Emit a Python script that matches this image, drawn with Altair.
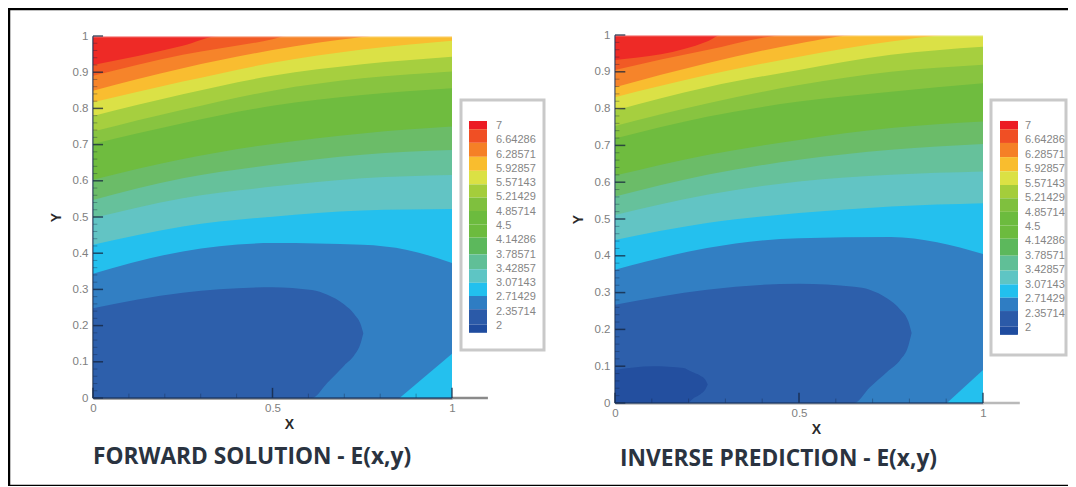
import altair as alt
import pandas as pd

BAND_COLORS = ["#ee2a26", "#f15a25", "#f6842a", "#f9bd30", "#dbe146", "#a6cf3f", "#88c440", "#6fbc3f",
               "#6bbc68", "#66c19b", "#62c4c4", "#24c0ee", "#327fc3", "#2d5fab", "#234f9f"]

GRID = [0, 0.25, 0.5, 0.75, 1]

# ---- forward solution: contour boundaries
L_BOUNDS = [
    ([0, .25, .355, 1], [.920, .973, 1, 1]),
    ([0, .25, .5, .54, 1], [.890, .948, .991, 1, 1]),
    ([0, .25, .5, .75, .78, 1], [.849, .911, .961, .997, 1, 1]),
    (GRID, [.817, .874, .926, .963, .987]),
    (GRID, [.779, .839, .890, .922, .943]),
    (GRID, [.736, .796, .849, .883, .902]),
    (GRID, [.702, .759, .807, .837, .856]),
    (GRID, [.603, .660, .702, .731, .750]),
    (GRID, [.547, .607, .644, .672, .685]),
    (GRID, [.497, .552, .584, .607, .616]),
    (GRID, [.423, .474, .501, .518, .522]),
    ([0, .25, .5, .75, .875, 1], [.343, .405, .428, .423, .409, .373]),
]
L_INNER_X = [0, .25, .5, .61, .653, .70, .729, .745, .753]
L_INNER_TOP = [.248, .291, .306, .298, .285, .258, .230, .205, .179]
L_INNER_LOW = [0, 0, 0, 0, .042, .090, .120, .150, .179]
L_CORNER_X = [.854, 1]
L_CORNER_Y = [0, .122]

# ---- inverse prediction
R_BOUNDS = [
    ([0, .25, .29, 1], [.932, .982, 1, 1]),
    ([0, .25, .477, 1], [.905, .959, 1, 1]),
    ([0, .25, .5, .664, 1], [.858, .923, .977, 1, 1]),
    ([0, .25, .5, .75, .916, 1], [.831, .891, .941, .982, 1, 1]),
    (GRID, [.795, .858, .905, .946, .968]),
    (GRID, [.753, .814, .864, .900, .919]),
    (GRID, [.719, .778, .819, .846, .869]),
    (GRID, [.618, .674, .715, .747, .765]),
    (GRID, [.561, .620, .661, .688, .704]),
    (GRID, [.511, .566, .602, .620, .629]),
    (GRID, [.443, .489, .516, .534, .543]),
    ([0, .25, .5, .75, .875, 1], [.362, .421, .448, .451, .437, .405]),
]
R_INNER_X = [0, .25, .5, .65, .692, .74, .776, .797, .806]
R_INNER_TOP = [.267, .308, .324, .316, .308, .284, .253, .222, .190]
R_INNER_LOW = [0, 0, 0, 0, .042, .085, .118, .155, .190]
R_CORE_X = [0, .103, .187, .196, .215, .232, .245, .252]
R_CORE_TOP = [.090, .100, .095, .091, .082, .074, .064, .050]
R_CORE_LOW = [0, 0, 0, 0, .014, .024, .036, .050]
R_CORNER_X = [.902, 1]
R_CORNER_Y = [0, .09]

LEGEND_LEVELS = ["7", "6.64286", "6.28571", "5.92857", "5.57143", "5.21429", "4.85714", "4.5",
                 "4.14286", "3.78571", "3.42857", "3.07143", "2.71429", "2.35714", "2"]
LEGEND_EDGES = [7.125, 6.92, 6.58, 6.23, 5.88, 5.54, 5.21, 4.875, 4.54, 4.21, 3.79, 3.42, 3.08, 2.75, 2.42, 2.04, 1.83]
LEGEND_COLORS = ["#ec1c24", "#f04f24", "#f58026", "#f9bd2e", "#dbe144", "#a4cd3b", "#7fc03e", "#6cbb3e",
                 "#6cbb3e", "#5cb85c", "#60bf97", "#5ec5c4", "#22c0ee", "#2f7dc3", "#2b5aa8", "#1f4c9f"]

Y_TICKS = [0, .1, .2, .3, .4, .5, .6, .7, .8, .9, 1]
X_TICKS = [0, .5, 1]
X_MINOR = [.1, .2, .3, .4, .6, .7, .8, .9]
Y_MINOR = [.02, .04, .06, .08, .12, .14, .16, .18, .22, .24, .26, .28, .32, .34, .36, .38, .42, .44, .46, .48,
           .52, .54, .56, .58, .62, .64, .66, .68, .72, .74, .76, .78, .82, .84, .86, .88, .92, .94, .96, .98]


def panel(bounds, inner, core, corner, xr, yr, caption, cap_x, cap_y, dom_color, y_off, x_off, title_x):
    sx = alt.Scale(domain=[0, 1], range=xr, nice=False, zero=False)
    sy = alt.Scale(domain=[0, 1], range=yr, nice=False, zero=False)
    X = alt.X("x:Q", scale=sx, axis=None)
    Y = alt.Y("y:Q", scale=sy, axis=None)
    X2 = alt.X2("x2:Q")
    Y2 = alt.Y2("y2:Q")
    common = dict(labelFont="Liberation Sans", labelFontSize=11.5, labelColor="#808080", labelOverlap=False,
                  labelFlush=False, ticks=False, grid=False, domainColor=dom_color, domainWidth=2.5,
                  titleFont="Liberation Sans", titleFontSize=14, titleColor="#2a2a2a", titleFontWeight="bold",
                  format="~g")
    layers = []
    # base band, with the axes
    base = pd.DataFrame({"x": [0, 1], "y": [1, 1], "y2": [0, 0]})
    layers.append(alt.Chart(base).mark_area(color=BAND_COLORS[0]).encode(
        x=alt.X("x:Q", scale=sx, axis=alt.Axis(values=X_TICKS, orient="bottom", offset=x_off, title="X",
                                               titleX=title_x, labelPadding=4, titlePadding=4, **common)),
        y=alt.Y("y:Q", scale=sy, axis=alt.Axis(values=Y_TICKS, orient="left", offset=y_off, title="Y",
                                               labelPadding=5, titlePadding=9, **common)),
        y2=Y2))
    for i, (xs, ys) in enumerate(bounds):
        d = pd.DataFrame({"x": xs, "y": ys, "y2": [0] * len(xs)})
        layers.append(alt.Chart(d).mark_area(color=BAND_COLORS[i + 1], interpolate="monotone").encode(x=X, y=Y, y2=Y2))
    d = pd.DataFrame({"x": inner[0], "y": inner[1], "y2": inner[2]})
    layers.append(alt.Chart(d).mark_area(color=BAND_COLORS[13], interpolate="monotone").encode(x=X, y=Y, y2=Y2))
    if core:
        d = pd.DataFrame({"x": core[0], "y": core[1], "y2": core[2]})
        layers.append(alt.Chart(d).mark_area(color=BAND_COLORS[14], interpolate="monotone").encode(x=X, y=Y, y2=Y2))
    d = pd.DataFrame({"x": corner[0], "y": corner[1], "y2": [0, 0]})
    layers.append(alt.Chart(d).mark_area(color=BAND_COLORS[11]).encode(x=X, y=Y, y2=Y2))
    # pale top edge
    d = pd.DataFrame({"x": [0], "x2": [1], "y": [1]})
    layers.append(alt.Chart(d).mark_rule(color="#ffffff", opacity=0.6, strokeWidth=2.5).encode(x=X, x2=X2, y=Y))
    # axis extension past x = 1
    d = pd.DataFrame({"x": [1], "x2": [1.1], "y": [0]})
    layers.append(alt.Chart(d).mark_rule(color=dom_color, strokeWidth=2.5).encode(x=X, x2=X2, y=Y))
    # inward ticks
    d = pd.DataFrame({"x": [0] * len(Y_TICKS), "x2": [.028] * len(Y_TICKS), "y": Y_TICKS})
    layers.append(alt.Chart(d).mark_rule(color="#14233c", opacity=0.75, strokeWidth=1.5).encode(x=X, x2=X2, y=Y))
    d = pd.DataFrame({"x": [0] * len(Y_MINOR), "x2": [.012] * len(Y_MINOR), "y": Y_MINOR})
    layers.append(alt.Chart(d).mark_rule(color="#14233c", opacity=0.35, strokeWidth=1).encode(x=X, x2=X2, y=Y))
    d = pd.DataFrame({"x": X_TICKS, "y": [0] * 3, "y2": [.028] * 3})
    layers.append(alt.Chart(d).mark_rule(color="#14233c", opacity=0.75, strokeWidth=1.5).encode(x=X, y=Y, y2=Y2))
    d = pd.DataFrame({"x": X_MINOR, "y": [0] * len(X_MINOR), "y2": [.012] * len(X_MINOR)})
    layers.append(alt.Chart(d).mark_rule(color="#14233c", opacity=0.35, strokeWidth=1).encode(x=X, y=Y, y2=Y2))
    # dark line along the two axes
    d = pd.DataFrame({"x": [0], "x2": [1], "y": [0]})
    layers.append(alt.Chart(d).mark_rule(color="#17325f", opacity=0.8, strokeWidth=1.5).encode(x=X, x2=X2, y=Y))
    d = pd.DataFrame({"x": [0], "y": [0], "y2": [1]})
    layers.append(alt.Chart(d).mark_rule(color="#17325f", opacity=0.55, strokeWidth=1.5).encode(x=X, y=Y, y2=Y2))
    # caption
    d = pd.DataFrame({"t": [caption]})
    layers.append(alt.Chart(d).mark_text(font="Open Sans", fontWeight="bold", fontSize=22.7, color="#2a3340",
                                         align="left", baseline="middle").encode(
        text="t:N", x=alt.value(cap_x), y=alt.value(cap_y)))
    return layers


def legend(box, bar, label_x, yr):
    sy = alt.Scale(domain=[2, 7], range=yr, nice=False, zero=False)
    empty = pd.DataFrame({"a": [0]})
    layers = [alt.Chart(empty).mark_rect(fill="#ffffff", stroke="#c9c9c9", strokeWidth=3).encode(
        x=alt.value(box[0]), x2=alt.value(box[1]), y=alt.value(box[2]), y2=alt.value(box[3]))]
    d = pd.DataFrame({"hi": LEGEND_EDGES[:-1], "lo": LEGEND_EDGES[1:], "c": LEGEND_COLORS})
    layers.append(alt.Chart(d).mark_rect().encode(
        x=alt.value(bar[0]), x2=alt.value(bar[1]),
        y=alt.Y("hi:Q", scale=sy, axis=None), y2="lo:Q",
        color=alt.Color("c:N", scale=None)))
    d = pd.DataFrame({"t": LEGEND_LEVELS, "v": [float(v) for v in LEGEND_LEVELS]})
    layers.append(alt.Chart(d).mark_text(font="Liberation Sans", fontSize=11, color="#858585", align="left",
                                         baseline="middle").encode(
        x=alt.value(label_x), y=alt.Y("v:Q", scale=sy, axis=None), text="t:N"))
    return layers


frame_data = pd.DataFrame({"a": [0]})
frame = [
    alt.Chart(frame_data).mark_rule(color="#000000", strokeWidth=2.5).encode(
        x=alt.value(0), x2=alt.value(1060), y=alt.value(1)),
    alt.Chart(frame_data).mark_rule(color="#000000", strokeWidth=2.5).encode(
        x=alt.value(1), y=alt.value(0), y2=alt.value(478)),
    alt.Chart(frame_data).mark_rule(color="#000000", strokeWidth=1.5).encode(
        x=alt.value(0), x2=alt.value(1060), y=alt.value(477.5)),
]

left = panel(L_BOUNDS, (L_INNER_X, L_INNER_TOP, L_INNER_LOW), None, (L_CORNER_X, L_CORNER_Y),
             [85, 444], [390, 28], "FORWARD SOLUTION - E(x,y)", 85, 449, "#8a8a8a", -85, -88, 281)
right = panel(R_BOUNDS, (R_INNER_X, R_INNER_TOP, R_INNER_LOW), (R_CORE_X, R_CORE_TOP, R_CORE_LOW),
              (R_CORNER_X, R_CORNER_Y), [607, 975], [395, 27], "INVERSE PREDICTION - E(x,y)", 612, 451,
              "#b9b9b9", -607, -83, 808)
leg_l = legend((453, 536, 92, 342), (461, 479), 488, [318, 118])
leg_r = legend((983, 1058, 92, 347), (992, 1010), 1017, [320, 118])

chart = alt.layer(*(frame + left + right + leg_l + leg_r)).resolve_scale(
    x="independent", y="independent"
).properties(
    width=1060, height=478, padding=0, autosize=alt.AutoSizeParams(type="none"), background="#ffffff"
).configure_view(stroke=None)

chart.save("out.html", embed_options={"renderer": "svg", "actions": False})
